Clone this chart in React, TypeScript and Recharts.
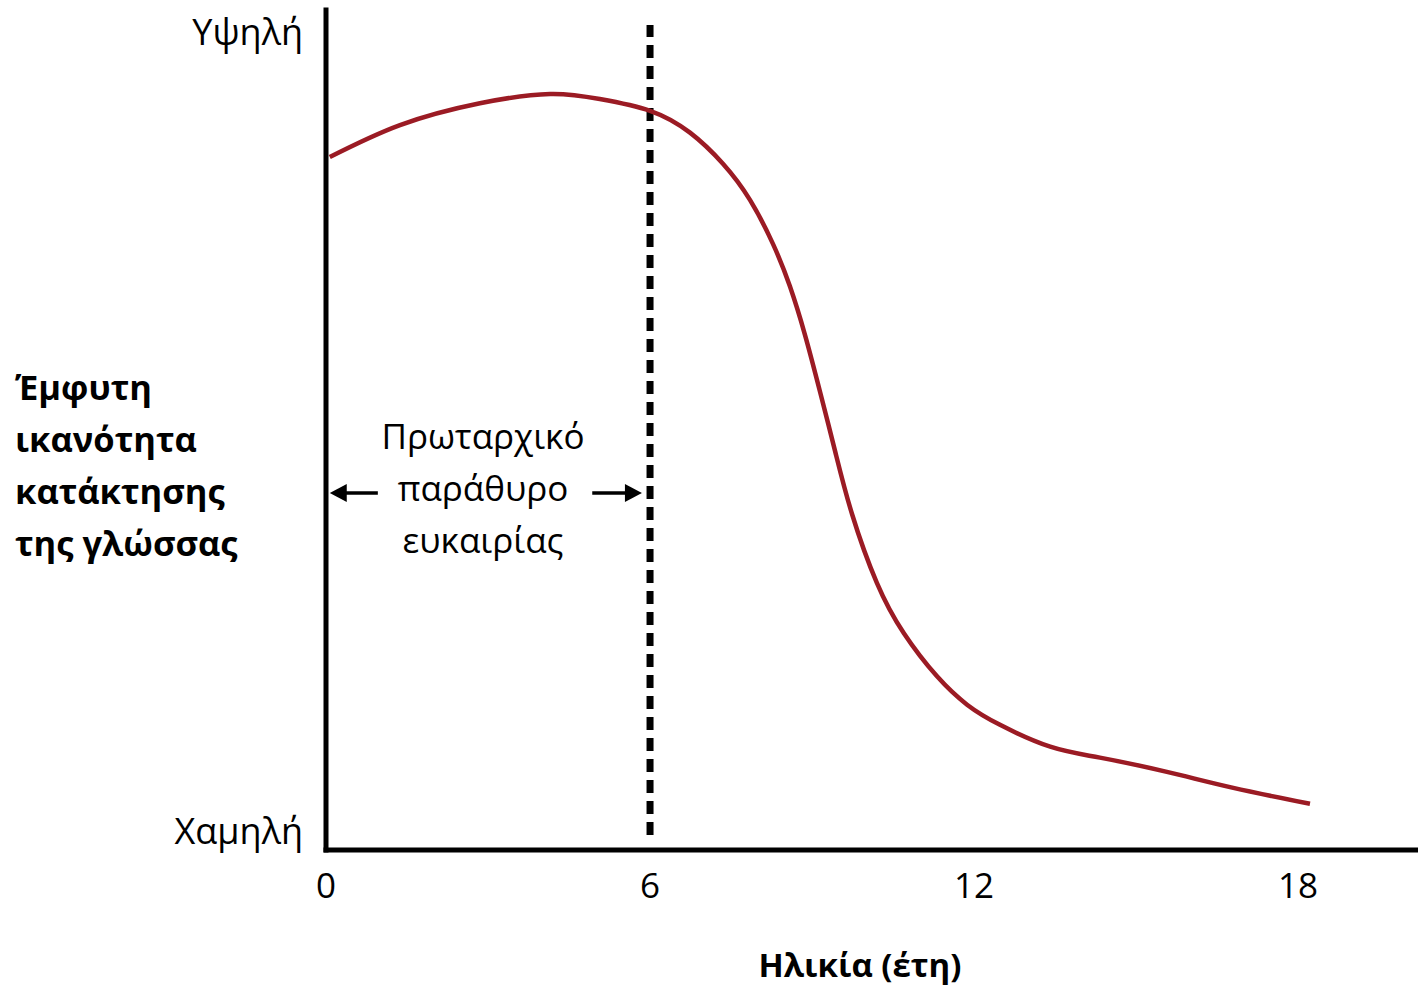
import { LineChart, Line, XAxis, YAxis, ReferenceLine, Label } from 'recharts';

// age (years) vs. innate language acquisition ability (0 = low, 100 = high)
const ages = [0.07, 1.37, 2.85, 4.15, 5.07, 6.0, 6.74, 7.35, 7.85, 8.28, 8.59, 8.87, 9.15, 9.43, 9.74, 10.2, 10.7, 11.31, 11.87, 12.48, 13.41, 14.33, 15.57, 16.8, 18.22];
const ability = [82.5, 86.3, 88.9, 90.0, 89.4, 88.0, 85.4, 81.7, 77.4, 72.1, 67.1, 61.3, 54.5, 47.4, 40.0, 31.8, 25.8, 20.7, 17.3, 14.9, 12.3, 11.0, 9.3, 7.4, 5.5];

const xTicks = [0, 6, 12, 18];
const yTicks = [2.2, 97.3];
const yTickLabels: Record<number, string> = { 2.2: 'Χαμηλή', 97.3: 'Υψηλή' };

const windowEnd = 6;
const arrowY = 42.5;

const titleLines = ['Έμφυτη', 'ικανότητα', 'κατάκτησης', 'της γλώσσας'];
const windowLines = ['Πρωταρχικό', 'παράθυρο', 'ευκαιρίας'];

const data = ages.map((a, i) => ({ age: a, ability: ability[i] }));

const FONT = '"Open Sans", "Noto Sans", sans-serif';

const XTick = (props: any) => {
  const { x, y, payload } = props;
  return (
    <text x={x} y={y + 40} textAnchor="middle" fontSize={35} fontFamily={FONT} fill="#000">
      {payload.value}
    </text>
  );
};

const YTick = (props: any) => {
  const { x, y, payload } = props;
  return (
    <text x={x - 15} y={y + 12} textAnchor="end" fontSize={36} fontFamily={FONT} fill="#000">
      {yTickLabels[payload.value]}
    </text>
  );
};

const Arrow = (dir: 'left' | 'right') => (props: any) => {
  const { x1, y1, x2, y2 } = props;
  const tip = dir === 'left' ? Math.min(x1, x2) : Math.max(x1, x2);
  const tail = dir === 'left' ? Math.max(x1, x2) : Math.min(x1, x2);
  const s = dir === 'left' ? 1 : -1;
  const y = (y1 + y2) / 2;
  return (
    <g>
      <line x1={tail} y1={y} x2={tip + s * 10} y2={y} stroke="#000" strokeWidth={3.5} />
      <polygon points={`${tip},${y} ${tip + s * 17},${y - 9} ${tip + s * 17},${y + 9}`} fill="#000" />
    </g>
  );
};

export default function App() {
  return (
    <div style={{ position: 'absolute', left: 0, top: 0, width: 1418, height: 989, background: '#fff' }}>
      <LineChart width={1418} height={989} data={data} margin={{ top: 10, right: 0, bottom: 0, left: 0 }}>
        <XAxis
          dataKey="age"
          type="number"
          domain={[0, 20.22]}
          ticks={xTicks}
          allowDataOverflow
          height={139}
          tickLine={false}
          axisLine={{ stroke: '#000', strokeWidth: 5, strokeLinecap: 'square' }}
          tick={<XTick />}
        >
          <Label
            value="Ηλικία (έτη)"
            position="insideBottom"
            offset={12}
            dx={-12}
            style={{ fontFamily: FONT, fontSize: 33, fontWeight: 700, fill: '#000' }}
          />
        </XAxis>
        <YAxis
          type="number"
          domain={[0, 100]}
          ticks={yTicks}
          width={326}
          tickLine={false}
          axisLine={{ stroke: '#000', strokeWidth: 5, strokeLinecap: 'square' }}
          tick={<YTick />}
        />
        <ReferenceLine
          segment={[{ x: windowEnd, y: 1.8 }, { x: windowEnd, y: 98.2 }]}
          stroke="#000"
          strokeWidth={7}
          strokeDasharray="13 8"
        />
        <ReferenceLine segment={[{ x: 0.07, y: arrowY }, { x: 0.96, y: arrowY }]} shape={Arrow('left')} />
        <ReferenceLine segment={[{ x: 4.93, y: arrowY }, { x: 5.85, y: arrowY }]} shape={Arrow('right')} />
        <Line
          type="natural"
          dataKey="ability"
          stroke="#9b1b24"
          strokeWidth={4.5}
          dot={false}
          isAnimationActive={false}
        />
      </LineChart>
      <svg width={1418} height={989} style={{ position: 'absolute', left: 0, top: 0, pointerEvents: 'none' }}>
        {titleLines.map((t, i) => (
          <text key={t} x={15} y={400 + i * 52} fontSize={34.5} fontWeight={700} fontFamily={FONT} fill="#000">
            {t}
          </text>
        ))}
        {windowLines.map((t, i) => (
          <text key={t} x={483} y={449 + i * 52} textAnchor="middle" fontSize={35} fontFamily={FONT} fill="#000">
            {t}
          </text>
        ))}
      </svg>
    </div>
  );
}
